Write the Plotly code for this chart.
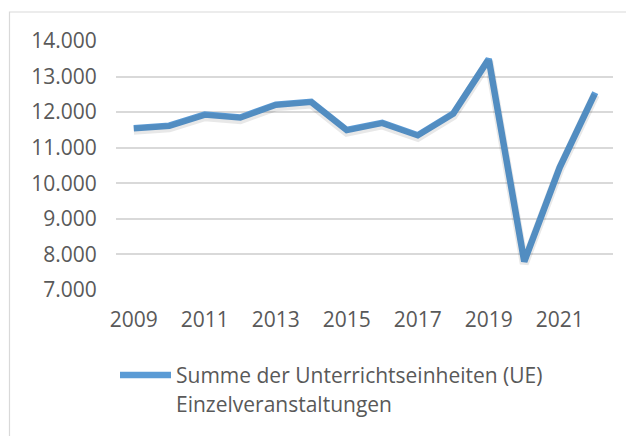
import plotly.graph_objects as go

years = list(range(2009, 2023))
values = [11550, 11620, 11930, 11850, 12210, 12290, 11500, 11700, 11350, 11960, 13490, 7800, 10450, 12550]
y_ticks = [7000, 8000, 9000, 10000, 11000, 12000, 13000, 14000]
y_tick_text = ["7.000", "8.000", "9.000", "10.000", "11.000", "12.000", "13.000", "14.000"]
x_ticks = [2009, 2011, 2013, 2015, 2017, 2019, 2021]
legend_lines = ["Summe der Unterrichtseinheiten (UE)", "Einzelveranstaltungen"]

OFF = 8  # page body margin
W, H = 634 - OFF, 436 - OFF
L, R, T, B = 116 - OFF, 21, 41 - OFF, 146
pw, ph = W - L - R, H - T - B

def px_x(p):
    return (p - OFF - L) / pw

def px_y(p):
    return (OFF + H - B - p) / ph

FONT = "Open Sans"
GREY = "#595959"
BLUE = "#5b9bd5"

fig = go.Figure()
# soft shadow (same data, drawn via a slightly shifted overlay axis)
fig.add_trace(go.Scatter(x=years, y=values, mode="lines", yaxis="y2",
                         line=dict(color="rgba(0,0,0,0.09)", width=9),
                         hoverinfo="skip", showlegend=False))
fig.add_trace(go.Scatter(x=years, y=values, mode="lines",
                         line=dict(color=BLUE, width=6.5),
                         name=legend_lines[0], showlegend=False))

shift = 60
fig.update_layout(
    width=W, height=H,
    margin=dict(l=L, r=R, t=T, b=B),
    paper_bgcolor="white", plot_bgcolor="white",
    font=dict(family=FONT, size=21, color=GREY),
    xaxis=dict(range=[2008.5, 2022.5], tickvals=x_ticks, ticktext=[str(v) for v in x_ticks],
               showgrid=False, zeroline=False, showline=False,
               ticks="outside", ticklen=11, tickcolor="rgba(0,0,0,0)",
               tickfont=dict(family=FONT, size=21, color=GREY)),
    yaxis=dict(range=[7000, 14000], tickvals=y_ticks, ticktext=y_tick_text,
               showgrid=True, gridcolor="#d9d9d9", gridwidth=1.5, zeroline=False, showline=False,
               ticks="outside", ticklen=14, tickcolor="rgba(0,0,0,0)",
               tickfont=dict(family=FONT, size=21, color=GREY)),
    yaxis2=dict(range=[7000 + shift, 14000 + shift], overlaying="y", visible=False),
    showlegend=False,
)

# chart border (Excel chart area frame)
fig.add_shape(type="rect", xref="paper", yref="paper",
              x0=px_x(9.5), x1=px_x(700), y0=px_y(520), y1=px_y(12),
              line=dict(color="#d9d9d9", width=1.2), fillcolor="rgba(0,0,0,0)", layer="below")

# legend sample
fig.add_shape(type="line", xref="paper", yref="paper",
              x0=px_x(120), x1=px_x(171), y0=px_y(375), y1=px_y(375),
              line=dict(color=BLUE, width=6.5))
for i, txt in enumerate(legend_lines):
    fig.add_annotation(text=txt, xref="paper", yref="paper",
                       x=px_x(174), y=px_y(375 + 29 * i), xanchor="left", yanchor="middle",
                       showarrow=False, font=dict(family=FONT, size=21, color=GREY))

fig.write_html("out.html")
